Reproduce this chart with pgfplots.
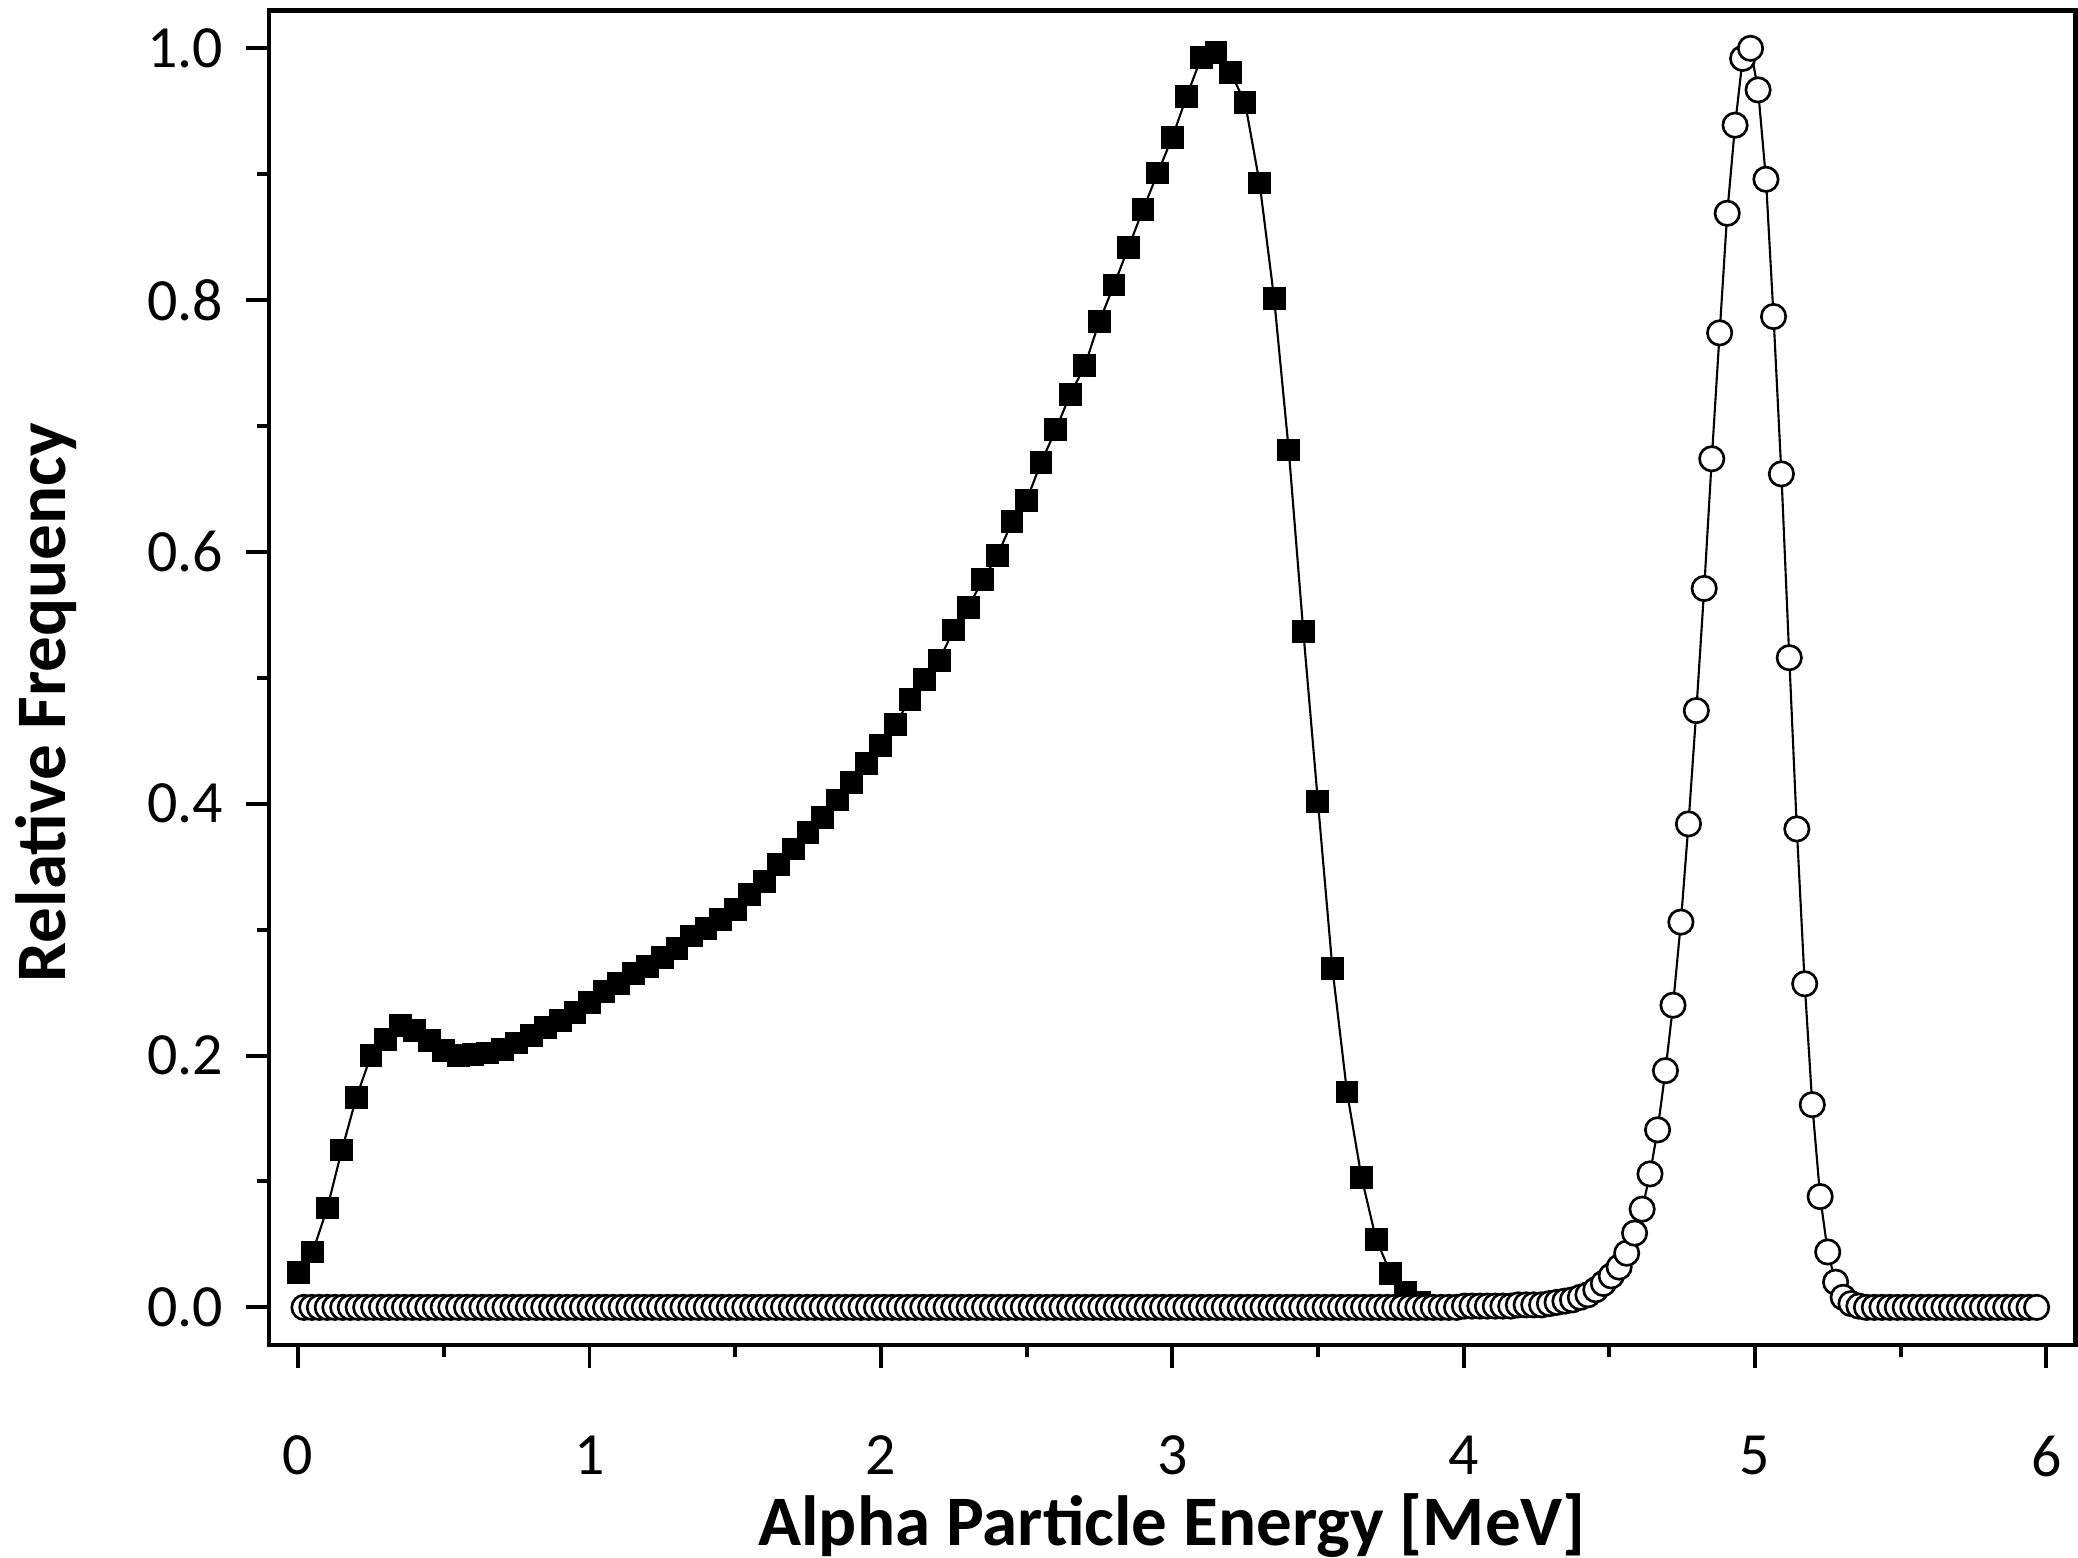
\documentclass[border=0pt]{standalone}
\usepackage{fontspec}
\setmainfont{Carlito}
\usepackage{pgfplots}
\pgfplotsset{compat=1.18}

\begin{document}
\begin{tikzpicture}
\begin{axis}[
  scale only axis, width=340.75pt, height=251.75pt,
  xmin=-0.1, xmax=6.1, ymin=-0.03, ymax=1.03,
  xtick={0,1,2,3,4,5,6}, ytick={0,0.2,0.4,0.6,0.8,1.0},
  minor x tick num=1, minor y tick num=1,
  xtick pos=bottom, ytick pos=left, tick align=outside,
  major tick length=4.25pt, minor tick length=2.25pt,
  every tick/.style={black, line width=0.75pt},
  axis line style={line width=0.8pt},
  /pgf/number format/assume math mode=true,
  tick label style={font=\fontsize{11.3}{13}\selectfont},
  yticklabel style={/pgf/number format/fixed, /pgf/number format/fixed zerofill,
    /pgf/number format/precision=1, xshift=-0.9pt},
  xticklabel style={yshift=-9.3pt},
  label style={font=\bfseries\fontsize{13.4}{16}\selectfont},
  xlabel={Alpha Particle Energy [MeV]},
  ylabel={Relative Frequency},
  xlabel style={at={(axis description cs:0.5,-0.135)}, anchor=center},
  ylabel style={at={(axis description cs:-0.1233,0.4816)}, anchor=center},
]
% filled squares
\addplot[black, line width=0.4pt, mark=square*, mark size=1.95pt, mark options={solid, fill=black}] coordinates {
(0.00,0.028) (0.05,0.044) (0.10,0.079) (0.15,0.125) (0.20,0.167) (0.25,0.200) (0.30,0.213) (0.35,0.224)
(0.40,0.220) (0.45,0.212) (0.50,0.204) (0.55,0.200) (0.60,0.201) (0.65,0.202) (0.70,0.205) (0.75,0.210)
(0.80,0.216) (0.85,0.222) (0.90,0.228) (0.95,0.234) (1.00,0.242) (1.05,0.251) (1.10,0.257) (1.15,0.265)
(1.20,0.271) (1.25,0.278) (1.30,0.285) (1.35,0.295) (1.40,0.301) (1.45,0.308) (1.50,0.316) (1.55,0.328)
(1.60,0.338) (1.65,0.352) (1.70,0.364) (1.75,0.377) (1.80,0.389) (1.85,0.403) (1.90,0.417) (1.95,0.432)
(2.00,0.446) (2.05,0.463) (2.10,0.483) (2.15,0.499) (2.20,0.514) (2.25,0.538) (2.30,0.556) (2.35,0.578)
(2.40,0.597) (2.45,0.624) (2.50,0.641) (2.55,0.671) (2.60,0.697) (2.65,0.725) (2.70,0.748) (2.75,0.783)
(2.80,0.812) (2.85,0.842) (2.90,0.872) (2.95,0.901) (3.00,0.929) (3.05,0.962) (3.10,0.993) (3.15,0.997)
(3.20,0.981) (3.25,0.957) (3.30,0.893) (3.35,0.801) (3.40,0.681) (3.45,0.537) (3.50,0.402) (3.55,0.269)
(3.60,0.171) (3.65,0.103) (3.70,0.054) (3.75,0.027) (3.80,0.012) (3.85,0.004)
};
% open circles
\addplot[black, line width=0.4pt, mark=*, mark size=2.3pt, mark options={solid, fill=white, line width=0.5pt}] coordinates {
(0.020,0) (0.047,0) (0.073,0) (0.100,0) (0.126,0) (0.153,0) (0.179,0) (0.206,0) (0.232,0) (0.259,0)
(0.286,0) (0.312,0) (0.339,0) (0.365,0) (0.392,0) (0.418,0) (0.445,0) (0.471,0) (0.498,0) (0.524,0)
(0.551,0) (0.578,0) (0.604,0) (0.631,0) (0.657,0) (0.684,0) (0.710,0) (0.737,0) (0.763,0) (0.790,0)
(0.817,0) (0.843,0) (0.870,0) (0.896,0) (0.923,0) (0.949,0) (0.976,0) (1.002,0) (1.029,0) (1.055,0)
(1.082,0) (1.109,0) (1.135,0) (1.162,0) (1.188,0) (1.215,0) (1.241,0) (1.268,0) (1.294,0) (1.321,0)
(1.348,0) (1.374,0) (1.401,0) (1.427,0) (1.454,0) (1.480,0) (1.507,0) (1.533,0) (1.560,0) (1.586,0)
(1.613,0) (1.640,0) (1.666,0) (1.693,0) (1.719,0) (1.746,0) (1.772,0) (1.799,0) (1.825,0) (1.852,0)
(1.879,0) (1.905,0) (1.932,0) (1.958,0) (1.985,0) (2.011,0) (2.038,0) (2.064,0) (2.091,0) (2.117,0)
(2.144,0) (2.171,0) (2.197,0) (2.224,0) (2.250,0) (2.277,0) (2.303,0) (2.330,0) (2.356,0) (2.383,0)
(2.410,0) (2.436,0) (2.463,0) (2.489,0) (2.516,0) (2.542,0) (2.569,0) (2.595,0) (2.622,0) (2.648,0)
(2.675,0) (2.702,0) (2.728,0) (2.755,0) (2.781,0) (2.808,0) (2.834,0) (2.861,0) (2.887,0) (2.914,0)
(2.941,0) (2.967,0) (2.994,0) (3.020,0) (3.047,0) (3.073,0) (3.100,0) (3.126,0) (3.153,0) (3.179,0)
(3.206,0) (3.233,0) (3.259,0) (3.286,0) (3.312,0) (3.339,0) (3.365,0) (3.392,0) (3.418,0) (3.445,0)
(3.472,0) (3.498,0) (3.525,0) (3.551,0) (3.578,0) (3.604,0) (3.631,0) (3.657,0) (3.684,0) (3.710,0)
(3.737,0) (3.764,0) (3.790,0) (3.817,0) (3.843,0) (3.870,0) (3.896,0) (3.923,0) (3.949,0) (3.976,0)
(4.003,0.001) (4.029,0.001) (4.056,0.001) (4.082,0.001) (4.109,0.001) (4.135,0.001) (4.162,0.001)
(4.188,0.002) (4.215,0.002) (4.241,0.002) (4.268,0.002) (4.295,0.003) (4.321,0.004) (4.348,0.005)
(4.374,0.006) (4.401,0.008) (4.427,0.010) (4.454,0.014) (4.480,0.019) (4.507,0.025) (4.534,0.032)
(4.560,0.043) (4.587,0.059) (4.613,0.078) (4.640,0.106) (4.666,0.141) (4.693,0.188) (4.719,0.240)
(4.746,0.306) (4.772,0.384) (4.799,0.474) (4.826,0.571) (4.852,0.674) (4.879,0.774) (4.905,0.869)
(4.932,0.939) (4.958,0.992) (4.985,1.000) (5.011,0.967) (5.038,0.896) (5.064,0.787) (5.091,0.662)
(5.118,0.516) (5.144,0.380) (5.171,0.257) (5.197,0.161) (5.224,0.088) (5.250,0.044) (5.277,0.020)
(5.303,0.008) (5.330,0.003) (5.357,0.001) (5.383,0) (5.410,0) (5.436,0) (5.463,0) (5.489,0)
(5.516,0) (5.542,0) (5.569,0) (5.596,0) (5.622,0) (5.649,0) (5.675,0) (5.702,0) (5.728,0) (5.755,0)
(5.781,0) (5.808,0) (5.834,0) (5.861,0) (5.888,0) (5.914,0) (5.941,0) (5.967,0)
};
\end{axis}
\pgfresetboundingbox
\path ([shift={(-50.75pt,-40pt)}]current axis.south west) rectangle ([shift={(0.5pt,2pt)}]current axis.north east);
\end{tikzpicture}
\end{document}
